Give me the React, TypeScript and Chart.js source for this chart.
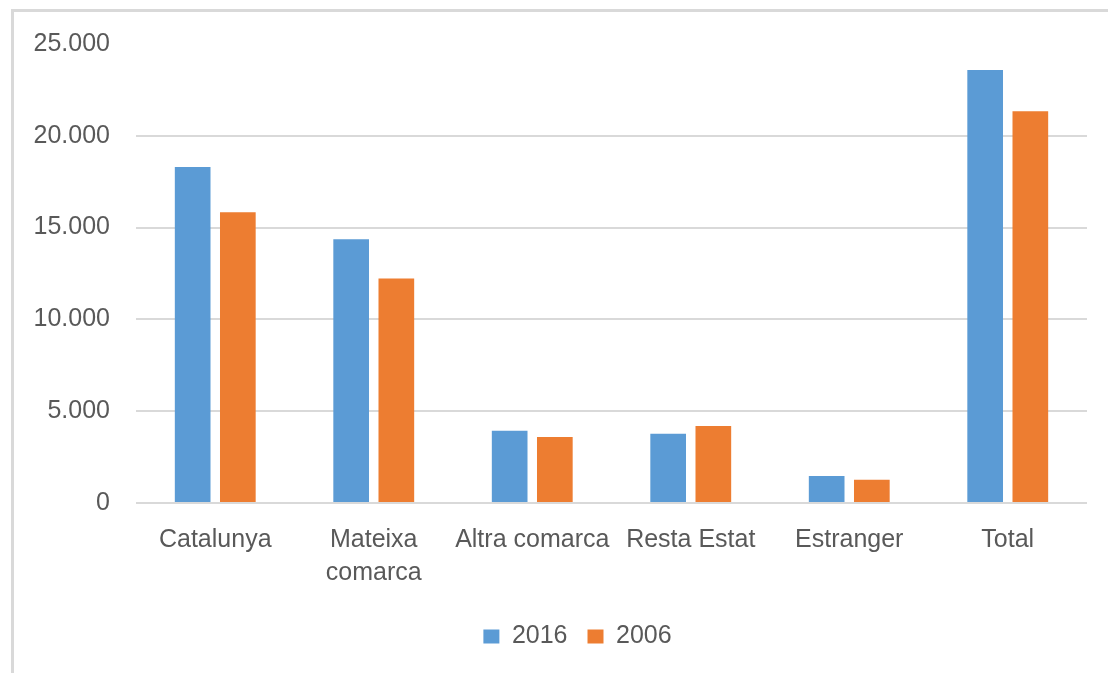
import React, { useEffect, useRef } from "react";
import { Chart, registerables } from "chart.js";

Chart.register(...registerables);

const categories: (string | string[])[] = [
  "Catalunya",
  ["Mateixa", "comarca"],
  "Altra comarca",
  "Resta Estat",
  "Estranger",
  "Total",
];
const values2016 = [18300, 14360, 3930, 3770, 1470, 23580];
const values2006 = [15830, 12230, 3600, 4200, 1260, 21340];
const yTicks = [0, 5000, 10000, 15000, 20000, 25000];

const TEXT = "#595959";
const FONT = "'Liberation Sans', Arial, sans-serif";

function fmt(v: number): string {
  return String(Math.round(v)).replace(/\B(?=(\d{3})+(?!\d))/g, ".");
}

const legendShift = {
  id: "legendShift",
  afterLayout(chart: any) {
    const lg = chart.legend;
    if (lg) {
      lg.left += 34;
      lg.right += 34;
      if (lg.adjustHitBoxes) lg.adjustHitBoxes();
    }
  },
};

export default function App() {
  const ref = useRef<HTMLCanvasElement | null>(null);
  useEffect(() => {
    if (!ref.current) return;
    const chart = new Chart(ref.current, {
      type: "bar",
      data: {
        labels: categories,
        datasets: [
          {
            label: "2016",
            data: values2016,
            backgroundColor: "#5B9BD5",
            categoryPercentage: 0.57,
            barPercentage: 0.79,
          },
          {
            label: "2006",
            data: values2006,
            backgroundColor: "#ED7D31",
            categoryPercentage: 0.57,
            barPercentage: 0.79,
          },
        ],
      },
      plugins: [legendShift],
      options: {
        responsive: false,
        animation: false,
        layout: { padding: { top: 44, right: 21, left: 0, bottom: 14 } },
        plugins: {
          tooltip: { enabled: false },
          legend: {
            position: "bottom",
            labels: {
              boxWidth: 16,
              boxHeight: 14,
              padding: 20,
              color: TEXT,
              font: { family: FONT, size: 25 },
            },
          },
        },
        scales: {
          x: {
            grid: { display: false },
            border: { display: false },
            ticks: {
              autoSkip: false,
              maxRotation: 0,
              minRotation: 0,
              padding: 13,
              color: TEXT,
              font: { family: FONT, size: 25, lineHeight: 1.32 },
            },
            afterFit: (s: any) => {
              s.height = 101;
            },
          },
          y: {
            min: 0,
            max: 25000,
            afterBuildTicks: (s: any) => {
              s.ticks = yTicks.map((v) => ({ value: v }));
            },
            grid: {
              drawTicks: false,
              lineWidth: 2,
              color: (ctx: any) =>
                ctx.tick && ctx.tick.value === 25000 ? "rgba(0,0,0,0)" : "#d9d9d9",
            },
            border: { display: false },
            ticks: {
              padding: 26,
              color: TEXT,
              font: { family: FONT, size: 25 },
              callback: (v: any) => fmt(Number(v)),
            },
            afterFit: (s: any) => {
              s.width = 136;
            },
          },
        },
      },
    });
    return () => chart.destroy();
  }, []);
  return (
    <div
      style={{
        position: "absolute",
        left: 0,
        top: 0,
        width: 1108,
        height: 673,
        overflow: "hidden",
        background: "#fff",
      }}
    >
      <div
        style={{
          position: "absolute",
          left: 11,
          top: 9,
          width: 1120,
          height: 700,
          borderLeft: "3px solid #d9d9d9",
          borderTop: "3px solid #d9d9d9",
        }}
      />
      <canvas
        ref={ref}
        width={1108}
        height={673}
        style={{ position: "absolute", left: 0, top: 0, width: 1108, height: 673 }}
      />
    </div>
  );
}
